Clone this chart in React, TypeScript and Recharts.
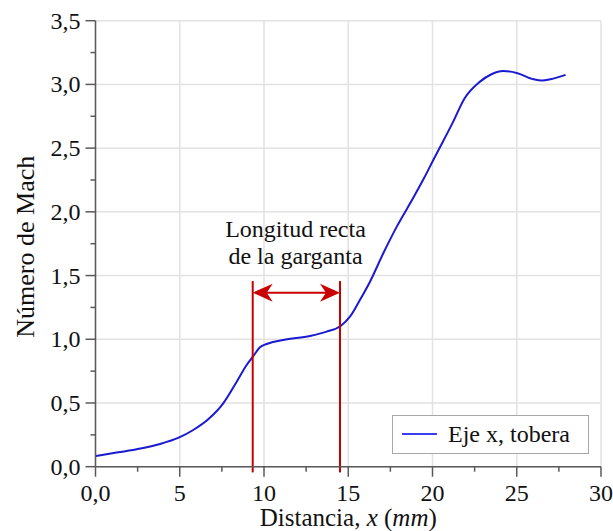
import {
  LineChart,
  Line,
  XAxis,
  YAxis,
  CartesianGrid,
  ReferenceLine,
  ReferenceDot,
  Legend,
  Label,
} from "recharts";

// distance along the nozzle axis (mm) and Mach number
const distance = [0, 1, 2.44, 3.83, 4.97, 5.8, 6.69, 7.58, 8.38, 8.97, 9.37, 9.76, 10.16, 11.15, 12.73, 13.72, 14.55, 15.1, 15.7, 16.29, 17.08, 17.88, 18.86, 19.5, 20.1, 21.2, 21.9, 22.8, 23.5, 24.2, 25, 26, 26.5, 27, 27.9];
const mach = [0.084, 0.105, 0.137, 0.178, 0.23, 0.288, 0.372, 0.497, 0.667, 0.798, 0.869, 0.937, 0.963, 0.995, 1.026, 1.06, 1.104, 1.177, 1.31, 1.452, 1.675, 1.884, 2.11, 2.265, 2.42, 2.7, 2.89, 3.02, 3.08, 3.105, 3.09, 3.04, 3.03, 3.04, 3.075];

const xTicks = [0, 2.5, 5, 7.5, 10, 12.5, 15, 17.5, 20, 22.5, 25, 27.5, 30];
const yTicks = [0, 0.25, 0.5, 0.75, 1, 1.25, 1.5, 1.75, 2, 2.25, 2.5, 2.75, 3, 3.25, 3.5];
const xGrid = [0, 5, 10, 15, 20, 25, 30];
const yGrid = [0, 0.5, 1, 1.5, 2, 2.5, 3, 3.5];

// throat straight length markers
const throatStart = 9.33;
const throatEnd = 14.51;
const throatTop = 1.457;
const arrowY = 1.366;

const seriesName = "Eje x, tobera";
const noteLines = ["Longitud recta", "de la garganta"];

const FONT = "'Liberation Serif', 'Times New Roman', serif";
const AXIS = "#5a5a5a";
const BLUE = "#1a1ad2";
const RED = "#c80000";

const data = distance.map((x, i) => ({ x, mach: mach[i] }));

const fmtX = (v: number) => (v === 0 ? "0,0" : String(v));
const fmtY = (v: number) => v.toFixed(1).replace(".", ",");

const XTick = (props: any) => {
  const { x, y, payload } = props;
  const v = payload.value;
  const major = v % 5 === 0;
  return (
    <g>
      <line x1={x} y1={y} x2={x} y2={y + (major ? 10 : 5)} stroke={AXIS} strokeWidth={1.5} />
      {major && (
        <text x={x} y={y + 34} textAnchor="middle" style={{ fontFamily: FONT }} fontSize={24} fill="#111">
          {fmtX(v)}
        </text>
      )}
    </g>
  );
};

const YTick = (props: any) => {
  const { x, y, payload } = props;
  const v = payload.value;
  const major = Math.abs(v * 2 - Math.round(v * 2)) < 1e-6;
  return (
    <g>
      <line x1={x - (major ? 10 : 5)} y1={y} x2={x} y2={y} stroke={AXIS} strokeWidth={1.5} />
      {major && (
        <text x={x - 15} y={y + 8} textAnchor="end" style={{ fontFamily: FONT }} fontSize={24} fill="#111">
          {fmtY(v)}
        </text>
      )}
    </g>
  );
};

const XTitle = (props: any) => {
  const vb = props.viewBox;
  return (
    <text x={vb.x + vb.width / 2} y={vb.y + 59.5} textAnchor="middle" style={{ fontFamily: FONT }} fontSize={25} fill="#111">
      Distancia, <tspan fontStyle="italic">x</tspan> (<tspan fontStyle="italic">mm</tspan>)
    </text>
  );
};

const YTitle = (props: any) => {
  const vb = props.viewBox;
  const cx = 34;
  const cy = vb.y + vb.height / 2 + 3;
  return (
    <text x={cx} y={cy} transform={`rotate(-90, ${cx}, ${cy})`} textAnchor="middle" style={{ fontFamily: FONT }} fontSize={26} fill="#111">
      Número de Mach
    </text>
  );
};

const DoubleArrow = (props: any) => {
  const { x1, y1, x2 } = props;
  const a = Math.min(x1, x2);
  const b = Math.max(x1, x2);
  const len = 20;
  const half = 9;
  const notch = 14;
  return (
    <g>
      <line x1={a + notch} y1={y1} x2={b - notch} y2={y1} stroke={RED} strokeWidth={2} />
      <path d={`M${a},${y1} L${a + len},${y1 - half} L${a + notch},${y1} L${a + len},${y1 + half} Z`} fill={RED} />
      <path d={`M${b},${y1} L${b - len},${y1 - half} L${b - notch},${y1} L${b - len},${y1 + half} Z`} fill={RED} />
    </g>
  );
};

const Note = (props: any) => {
  const { cx, cy } = props;
  return (
    <g>
      {noteLines.map((t, i) => (
        <text key={t} x={cx} y={cy + i * 27} textAnchor="middle" style={{ fontFamily: FONT }} fontSize={24} fill="#111">
          {t}
        </text>
      ))}
    </g>
  );
};

const LegendBox = () => (
  <div
    style={{
      width: 197,
      height: 39,
      border: "1.5px solid #a8a8a8",
      background: "#fff",
      boxSizing: "border-box",
      position: "relative",
      fontFamily: FONT,
      fontSize: 24,
      color: "#111",
    }}
  >
    <svg width={40} height={36} style={{ position: "absolute", left: 9, top: 0 }}>
      <line x1={0} y1={18} x2={35} y2={18} stroke="#3c3cf0" strokeWidth={2} />
    </svg>
    <span style={{ position: "absolute", left: 55, top: 4, lineHeight: "28px", whiteSpace: "nowrap" }}>{seriesName}</span>
  </div>
);

export default function App() {
  return (
    <div style={{ position: "absolute", left: 0, top: 0, width: 613, height: 531, background: "#fff" }}>
      <LineChart width={613} height={531} data={data} margin={{ top: 20.7, right: 12, left: 0, bottom: 24.3 }}>
        <CartesianGrid
          stroke="#e2e2e2"
          strokeWidth={1.5}
          horizontalValues={yGrid}
          verticalValues={xGrid}
        />
        <XAxis
          dataKey="x"
          type="number"
          domain={[0, 30]}
          ticks={xTicks}
          interval={0}
          height={40}
          tickLine={false}
          tickSize={0}
          tickMargin={0}
          tick={<XTick />}
          axisLine={{ stroke: AXIS, strokeWidth: 1.5 }}
          allowDataOverflow
        >
          <Label content={<XTitle />} />
        </XAxis>
        <YAxis
          type="number"
          domain={[0, 3.5]}
          ticks={yTicks}
          interval={0}
          width={95.5}
          tickLine={false}
          tickSize={0}
          tickMargin={0}
          tick={<YTick />}
          axisLine={{ stroke: AXIS, strokeWidth: 1.5 }}
          allowDataOverflow
        >
          <Label content={<YTitle />} />
        </YAxis>
        <Line
          type="monotone"
          dataKey="mach"
          name={seriesName}
          stroke={BLUE}
          strokeWidth={2}
          dot={false}
          isAnimationActive={false}
        />
        <ReferenceLine
          segment={[{ x: throatStart, y: -0.045 }, { x: throatStart, y: throatTop }]}
          stroke={RED}
          strokeWidth={2}
          ifOverflow="visible"
        />
        <ReferenceLine
          segment={[{ x: throatEnd, y: -0.045 }, { x: throatEnd, y: throatTop }]}
          stroke={RED}
          strokeWidth={2}
          ifOverflow="visible"
        />
        <ReferenceLine
          segment={[{ x: throatStart, y: arrowY }, { x: throatEnd, y: arrowY }]}
          shape={<DoubleArrow />}
          ifOverflow="visible"
        />
        <ReferenceDot x={11.87} y={1.8} r={0} shape={<Note />} ifOverflow="visible" />
        <Legend
          layout="vertical"
          align="center"
          verticalAlign="middle"
          content={<LegendBox />}
          wrapperStyle={{ left: 392, top: 415, width: 197, height: 39 }}
        />
      </LineChart>
    </div>
  );
}
